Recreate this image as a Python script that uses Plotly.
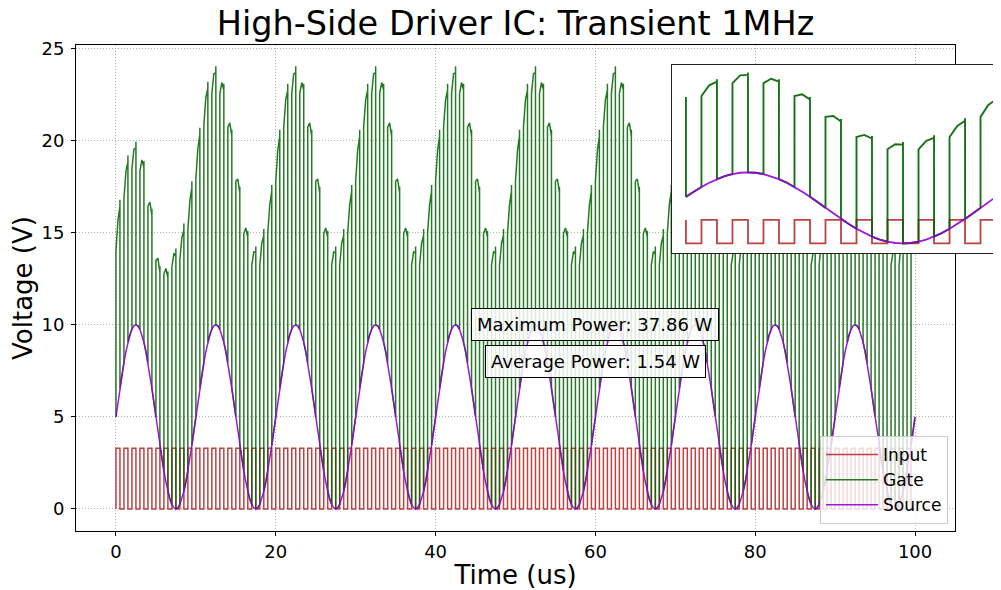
import plotly.graph_objects as go

# ---------------- data ----------------
# Source node voltage, one 10 us period sampled every 0.25 us (V)
source_step_us = 0.25
source_cycle = [5.00, 5.78, 6.55, 7.27, 7.94, 8.54, 9.05, 9.46, 9.76, 9.94,
                10.00, 9.94, 9.76, 9.46, 9.05, 8.54, 7.94, 7.27, 6.55, 5.78,
                5.00, 4.22, 3.45, 2.73, 2.06, 1.46, 0.95, 0.54, 0.24, 0.06,
                0.00, 0.06, 0.24, 0.54, 0.95, 1.46, 2.06, 2.73, 3.45, 4.22]
source_cycles = 10
source_end = 5.00

# Input clock: 1 MHz square wave, 50 % duty
input_low = 0.0
input_high = 3.3
clock_period_us = 1.0
n_pulses = 100

# Gate boost above the source node for each of the 100 pulses (V)
gate_boost = [9.9, 9.8, 9.6, 9.5, 9.4, 9.4, 11.6, 13.8, 14.2, 14.0,
              13.8, 13.8, 13.7, 13.7, 13.7, 13.7, 13.8, 13.9, 13.9, 13.8,
              13.7, 13.7, 13.7, 13.7, 13.7, 13.7, 13.8, 13.9, 13.9, 13.8,
              13.7, 13.7, 13.7, 13.7, 13.7, 13.7, 13.8, 13.9, 13.9, 13.8,
              13.7, 13.7, 13.7, 13.7, 13.7, 13.7, 13.8, 13.9, 13.9, 13.8,
              13.7, 13.7, 13.7, 13.7, 13.7, 13.7, 13.8, 13.9, 13.9, 13.8,
              13.7, 13.7, 13.7, 13.7, 13.7, 13.7, 13.8, 13.9, 13.9, 13.8,
              13.7, 13.7, 13.7, 13.7, 13.7, 13.7, 13.8, 13.9, 13.9, 13.8,
              13.7, 13.7, 13.7, 13.7, 13.7, 13.7, 13.8, 13.9, 13.9, 13.8,
              13.7, 13.7, 13.7, 13.7, 13.7, 13.7, 13.8, 13.9, 13.9, 13.8]
gate_rise_dip = 0.9   # gate sits this far below its plateau right after the rising edge
gate_fall_hook = 0.35  # small kick just before the falling edge

# Power annotations
max_power_w = 37.86
avg_power_w = 1.54

# Inset window (us)
inset_start = 50.5
inset_len = 10.0

x_ticks = [0, 20, 40, 60, 80, 100]
y_ticks = [0, 5, 10, 15, 20, 25]

# ---------------- build the waveforms ----------------
per_cycle = len(source_cycle)
src_t, src_v = [], []
for k in range(source_cycles):
    for j, v in enumerate(source_cycle):
        src_t.append(round((k * per_cycle + j) * source_step_us, 4))
        src_v.append(v)
src_t.append(round(source_cycles * per_cycle * source_step_us, 4))
src_v.append(source_end)

steps_per_clock = int(round(clock_period_us / source_step_us))
half = clock_period_us / 2

in_t, in_v = [], []
for n in range(n_pulses):
    t = n * clock_period_us
    in_t += [t, t, t + half, t + half]
    in_v += [input_low, input_high, input_high, input_low]
in_t.append(n_pulses * clock_period_us)
in_v.append(input_low)

g_t, g_v = [], []
for n in range(n_pulses):
    i = n * steps_per_clock
    t = n * clock_period_us
    b = gate_boost[n]
    g_t += [t, t, src_t[i + 1], src_t[i + 2], src_t[i + 2], src_t[i + 2], src_t[i + 3]]
    g_v += [src_v[i], src_v[i] + b - gate_rise_dip, src_v[i + 1] + b,
            src_v[i + 2] + b, src_v[i + 2] + b + gate_fall_hook,
            src_v[i + 2], src_v[i + 3]]
g_t.append(src_t[-1])
g_v.append(src_v[-1])


def window(ts, vs, a, b):
    start = next(k for k, t in enumerate(ts) if t >= a - 1e-9)
    end = next(k for k, t in enumerate(ts) if t >= b - 1e-9)
    return ts[start:end + 1], vs[start:end + 1]


ia, ib = inset_start, inset_start + inset_len
in_t2, in_v2 = window(in_t, in_v, ia, ib)
g_t2, g_v2 = window(g_t, g_v, ia, ib)
s_idx = [k for k, t in enumerate(src_t) if ia - 1e-9 <= t <= ib + 1e-9]
src_t2 = [src_t[k] for k in s_idx]
src_v2 = [src_v[k] for k in s_idx]

# ---------------- figure ----------------
FONT = "DejaVu Sans"
C_IN = "#b22222"
C_GATE = "#006400"
C_SRC = "#9400d3"

fig = go.Figure()
fig.add_trace(go.Scatter(x=in_t, y=in_v, mode="lines", name="Input",
                         line=dict(color=C_IN, width=1.5), opacity=0.85))
fig.add_trace(go.Scatter(x=g_t, y=g_v, mode="lines", name="Gate",
                         line=dict(color=C_GATE, width=1.5), opacity=0.85))
fig.add_trace(go.Scatter(x=src_t, y=src_v, mode="lines", name="Source",
                         line=dict(color=C_SRC, width=1.5), opacity=0.9))

fig.add_trace(go.Scatter(x=in_t2, y=in_v2, mode="lines", showlegend=False,
                         line=dict(color=C_IN, width=1.8), opacity=0.85,
                         xaxis="x2", yaxis="y2"))
fig.add_trace(go.Scatter(x=g_t2, y=g_v2, mode="lines", showlegend=False,
                         line=dict(color=C_GATE, width=1.9), opacity=0.9,
                         xaxis="x2", yaxis="y2"))
fig.add_trace(go.Scatter(x=src_t2, y=src_v2, mode="lines", showlegend=False,
                         line=dict(color=C_SRC, width=1.8), opacity=0.9,
                         xaxis="x2", yaxis="y2"))

# The page body adds an 8 px offset, so the figure is laid out 8 px up/left.
OFF = 8
W, H = 1001 - OFF, 590 - OFF
L, R, T = 76 - OFF, 0, 45 - OFF
B = H - (531 - OFF)
pw = W - L - R
ph = H - T - B
main_right = (955 - 76) / pw

fig.update_layout(
    width=W, height=H,
    margin=dict(l=L, r=R, t=T, b=B, autoexpand=False),
    paper_bgcolor="white", plot_bgcolor="white",
    font=dict(family=FONT, color="black", size=18),
    title=dict(text="High-Side Driver IC: Transient 1MHz",
               font=dict(family=FONT, size=33.5, color="black"),
               x=(515.5 - 76) / pw, xref="paper", xanchor="center",
               y=1.0, yref="container", yanchor="top", pad=dict(t=4)),
    xaxis=dict(domain=[0, main_right], range=[-5, 105], tickvals=x_ticks,
               showline=True, linecolor="black", linewidth=1, mirror=True,
               ticks="outside", ticklen=4, tickcolor="black",
               showgrid=True, gridcolor="#b0b0b0", griddash="1px,2px",
               gridwidth=1, zeroline=False, tickfont=dict(size=18),
               automargin=False,
               title=dict(text="Time (us)", font=dict(size=26), standoff=10)),
    yaxis=dict(domain=[0, 1], range=[-1.2, 25.2], tickvals=y_ticks,
               showline=True, linecolor="black", linewidth=1, mirror=True,
               ticks="outside", ticklen=4, tickcolor="black",
               ticklabelstandoff=3,
               showgrid=True, gridcolor="#b0b0b0", griddash="1px,2px",
               gridwidth=1, zeroline=False, tickfont=dict(size=18),
               automargin=False,
               title=dict(text="Voltage (V)", font=dict(size=26), standoff=1)),
    xaxis2=dict(domain=[(672 - 76) / pw, 1.0],
                range=[inset_start - 0.45, inset_start + 10.16],
                anchor="y2", showticklabels=False, ticks="", showgrid=False,
                zeroline=False, showline=True, linecolor="#222222",
                linewidth=1, mirror=True, automargin=False),
    yaxis2=dict(domain=[1 - (253 - 45) / ph, 1 - (65 - 45) / ph],
                range=[-1.35, 25.1], anchor="x2", showticklabels=False,
                ticks="", showgrid=False, zeroline=False, showline=True,
                linecolor="#222222", linewidth=1, mirror=False,
                automargin=False),
    legend=dict(x=(948 - 76) / pw, y=(531 - 524) / ph, xanchor="right",
                yanchor="bottom", bgcolor="rgba(255,255,255,0.8)",
                bordercolor="#cccccc", borderwidth=1, itemwidth=52,
                tracegroupgap=4,
                font=dict(size=17, family=FONT)),
    showlegend=True,
)

fig.add_annotation(x=60, y=10, xref="x", yref="y",
                   text=f"Maximum Power: {max_power_w:.2f} W", showarrow=False,
                   font=dict(size=18, family=FONT, color="black"),
                   bgcolor="rgba(255,255,255,0.85)", bordercolor="black",
                   borderwidth=1, borderpad=5)
fig.add_annotation(x=60, y=8, xref="x", yref="y",
                   text=f"Average Power: {avg_power_w:.2f} W", showarrow=False,
                   font=dict(size=18, family=FONT, color="black"),
                   bgcolor="rgba(255,255,255,0.85)", bordercolor="black",
                   borderwidth=1, borderpad=5)

fig.write_html("out.html")
